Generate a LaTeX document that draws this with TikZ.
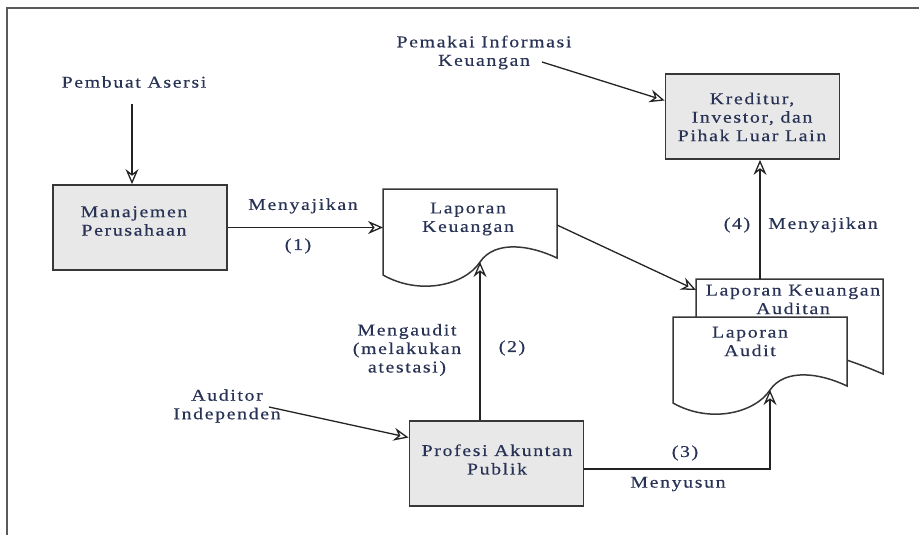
\documentclass[tikz,border=0pt]{standalone}
\usepackage{fontspec}
\setmainfont{Liberation Serif}[FakeStretch=1.2,LetterSpace=10,FakeBold=0.4]
\usetikzlibrary{arrows.meta}
\definecolor{txtc}{RGB}{40,50,85}
\definecolor{linec}{RGB}{35,35,35}
\definecolor{boxc}{RGB}{55,55,55}
\definecolor{boxfill}{RGB}{232,232,232}
\definecolor{framec}{RGB}{90,90,90}
\begin{document}
\begin{tikzpicture}[x=1pt,y=-1pt,
  boxnode/.style={draw=boxc, line width=1.8pt, fill=boxfill, minimum width=174pt, minimum height=85pt, inner sep=0pt},
  txt/.style={text=txtc, align=center, font=\fontsize{16.5}{18.5}\selectfont, inner sep=0pt},
  docline/.style={draw=boxc, line width=1.5pt, fill=white, line join=miter},
  arr/.style={draw=linec, line width=1.3pt, -{Stealth[open, length=15pt, width=13pt, inset=5pt]}}]
\useasboundingbox (0,0) rectangle (919,535);

% outer frame (top and left edges)
\draw[framec, line width=1.5pt] (7,535) -- (7,8) -- (919,8);

% boxes
\node[boxnode] (mp) at (140,227.5) {};
\node[txt] (mpt) at (134,221) {Manajemen\\Perusahaan};
\node[boxnode] (kr) at (752.5,116.5) {};
\node[txt] (krt) at (752,117) {Kreditur,\\Investor, dan\\Pihak Luar Lain};
\node[boxnode] (pap) at (496.5,463.5) {};
\node[txt] (papt) at (497,459.5) {Profesi Akuntan\\Publik};

% document: Laporan Keuangan
\path[docline] (383,189) -- (557,189) -- (557,258)
  .. controls (530,245) and (495,240) .. (480,262)
  .. controls (465,285) and (420,296) .. (383,275) -- cycle;
\coordinate (lkw) at (480,262);
\coordinate (lkleft) at (383,227.5);
\coordinate (lkright) at (557,225);
\node[txt] (lkt) at (468,219) {Laporan\\Keuangan};

% document: Laporan Keuangan Auditan (behind)
\path[docline] (696,279) -- (883,279) -- (883,374)
  .. controls (860,364) and (800,340) .. (760,350)
  .. controls (730,358) and (710,362) .. (696,360) -- cycle;
\coordinate (lkaleft) at (696,290);
\coordinate (lkatop) at (760,279);
\node[txt] (lkat) at (793,299.5) {Laporan Keuangan\\Auditan};

% document: Laporan Audit (front)
\path[docline] (673,317) -- (847,317) -- (847,386)
  .. controls (820,373) and (785,368) .. (770,390)
  .. controls (755,413) and (710,424) .. (673,403) -- cycle;
\coordinate (law) at (770,390);
\node[txt] (lat) at (750,341.5) {Laporan\\Audit};

% free labels
\node[txt] (pa) at (134,82) {Pembuat Asersi};
\node[txt] (pi) at (484,52.5) {Pemakai Informasi\\Keuangan};
\coordinate (pistart) at (542,62);
\node[txt] (ai) at (227,406) {Auditor\\Independen};
\coordinate (aistart) at (269,407);

% connectors
\draw[arr] ([yshift=-16pt]pa.south -| 132,0) -- (132,0 |- mp.north);
\draw[arr] (mp.east) -- (lkleft);
\node[txt] (l1a) at (303,206) {Menyajikan};
\node[txt] (l1b) at (298,246) {(1)};

\draw[arr] (pap.north -| lkw) -- (lkw);
\node[txt] (l2a) at (407,350) {Mengaudit\\(melakukan\\atestasi)};
\node[txt] (l2b) at (512,348) {(2)};

\draw[arr] ([yshift=-5.5pt]pap.east) -| (law);
\node[txt] (l3a) at (685,453) {(3)};
\node[txt] (l3b) at (678,484) {Menyusun};

\draw[arr] (lkright) -- (lkaleft);

\draw[arr] (lkatop) -- (lkatop |- kr.south);
\node[txt] (l4a) at (737,225) {(4)};
\node[txt] (l4b) at (823,225) {Menyajikan};

\draw[arr] (pistart) -- ([yshift=16pt]kr.west);
\draw[arr] (aistart) -- ([yshift=26pt]pap.west);
\end{tikzpicture}
\end{document}
